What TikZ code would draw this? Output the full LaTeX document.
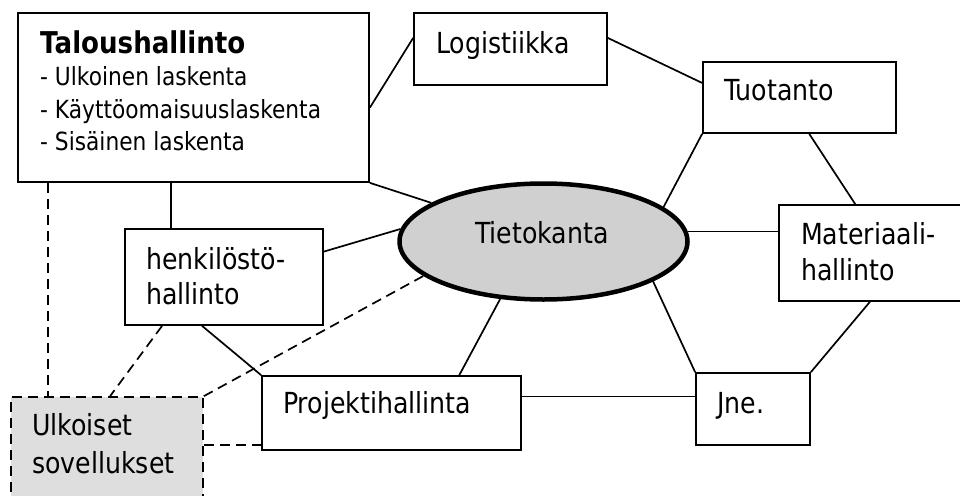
\documentclass[tikz,border=0pt]{standalone}
\usepackage{fontspec}
\setmainfont{DejaVu Sans}[FakeStretch=0.87]
\usetikzlibrary{shapes.geometric,calc}
\definecolor{dbfill}{RGB}{208,208,208}
\definecolor{extfill}{RGB}{222,222,222}
\begin{document}
\begin{tikzpicture}[x=1pt,y=-1pt,
  box/.style={draw,line width=1.7pt,inner sep=0pt,fill=white},
  conn/.style={draw,line width=1.7pt},
  dconn/.style={draw,line width=1.7pt,dash pattern=on 10pt off 6pt},
  txt/.style={anchor=base west,inner sep=0pt,font=\fontsize{29}{36}\selectfont},
  listtxt/.style={anchor=base west,inner sep=0pt,font=\fontsize{25}{32}\selectfont}]
\useasboundingbox (0,0) rectangle (960,495);
\clip (0,0) rectangle (960,495);
\fill[white] (0,0) rectangle (960,495);

% boxes
\node[box,minimum width=351pt,minimum height=169pt] (T) at (193.5,97.5) {};
\node[box,minimum width=193pt,minimum height=72pt] (L) at (510.5,49) {};
\node[box,minimum width=193pt,minimum height=71pt] (P) at (799.5,97.5) {};
\node[box,minimum width=196pt,minimum height=96pt] (M) at (877,253) {};
\node[box,minimum width=114pt,minimum height=72pt] (J) at (753,409) {};
\node[box,minimum width=259pt,minimum height=74pt] (Pr) at (391.5,413) {};
\node[box,minimum width=198pt,minimum height=96pt] (H) at (224,277) {};
\node[draw,line width=1.7pt,dash pattern=on 10pt off 6pt,fill=extfill,inner sep=0pt,
      minimum width=192pt,minimum height=123pt] (U) at (107,458.5) {};
\node[ellipse,draw,line width=4.5pt,fill=dbfill,inner sep=0pt,
      minimum width=288pt,minimum height=116pt] (E) at (543.5,241.5) {};

% texts
\node[txt,font=\bfseries\fontsize{30}{36}\selectfont] (t1) at (40,53) {Taloushallinto};
\node[listtxt] (t2) at (40,85) {- Ulkoinen laskenta};
\node[listtxt] (t3) at (40,118) {- Käyttöomaisuuslaskenta};
\node[listtxt] (t4) at (40,150) {- Sisäinen laskenta};
\node[txt] (l1) at (436,53) {Logistiikka};
\node[txt] (p1) at (724,100) {Tuotanto};
\node[txt] (e1) at (475,243) {Tietokanta};
\node[txt] (m1) at (801,244) {Materiaali-};
\node[txt] (m2) at (801,280) {hallinto};
\node[txt] (h1) at (146,269) {henkilöstö-};
\node[txt] (h2) at (146,304) {hallinto};
\node[txt] (pr1) at (283,413) {Projektihallinta};
\node[txt] (j1) at (717,413) {Jne.};
\node[txt] (u1) at (32,435) {Ulkoiset};
\node[txt] (u2) at (32,473) {sovellukset};

% solid connectors
\draw[conn] ($(T.north east)!0.56!(T.south east)$) -- ($(L.north west)!0.35!(L.south west)$);
\draw[conn] ($(L.north east)!0.35!(L.south east)$) -- ($(P.north west)!0.3!(P.south west)$);
\draw[conn] (P.south west) -- (E.16.7);
\draw[conn] ($(P.south west)!0.55!(P.south east)$) -- ($(M.north west)!0.39!(M.north east)$);
\draw[conn] (E.4.9) -- (E.4.9 -| M.west);
\draw[conn] ($(M.south west)!0.464!(M.south east)$) -- (J.north east);
\draw[conn] (J.north west) -- (E.-20.8);
\coordinate (prj) at ($(Pr.north east)!0.28!(Pr.south east)$);
\draw[conn] (prj) -- (prj -| J.west);
\draw[conn] ($(Pr.north west)!0.76!(Pr.north east)$) -- (E.-127.5);
\draw[conn] ($(H.south west)!0.39!(H.south east)$) -- (Pr.north west);
\draw[conn] ($(H.north east)!0.24!(H.south east)$) -- (E.175);
\coordinate (tv) at ($(T.south west)!0.436!(T.south east)$);
\draw[conn] (tv) -- (tv |- H.north);
\draw[conn] (T.south east) -- (E.161.7);

% dashed connectors
\coordinate (td) at ($(T.south west)!0.088!(T.south east)$);
\draw[dconn] (td) -- (td |- U.north);
\draw[dconn] ($(H.south west)!0.19!(H.south east)$) -- ($(U.north west)!0.516!(U.north east)$);
\draw[dconn] (U.north east) -- (E.196.3);
\coordinate (ud) at ($(U.north east)!0.39!(U.south east)$);
\draw[dconn] (ud) -- (ud -| Pr.west);
\end{tikzpicture}
\end{document}
